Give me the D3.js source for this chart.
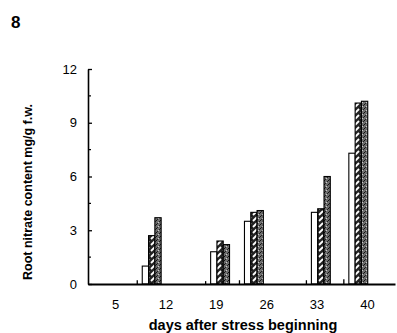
<!DOCTYPE html>
<html lang="en">
<head>
<meta charset="UTF-8">
<title>Root nitrate</title>
<script src="https://d3js.org/d3.v7.min.js"></script>
<style>
  body { margin: 0; background: #fff; }
  text { font-family: "Liberation Sans", Arial, sans-serif; }
</style>
</head>
<body>
<svg width="397" height="333"></svg>
<script>
// sampling day of each bar group (bars sit slightly off the printed ticks)
var groupDays = [10.1, 19.6, 24.3, 33.6, 38.8];
var dayTicks = [5, 12, 19, 26, 33, 40];
var yTicks = [0, 3, 6, 9, 12];
var yMinor = [1.5, 4.5, 7.5, 10.5];

var trace = [0.1, 0.05, 0.1, 0.1, 0.15];
var plain = [1.0, 1.8, 3.5, 4.0, 7.3];
var hatched = [2.7, 2.4, 4.0, 4.2, 10.1];
var dotted = [3.7, 2.2, 4.1, 6.0, 10.2];

var svg = d3.select('svg');
var defs = svg.append('defs');

// black bar with white slanted dashes
var p1 = defs.append('pattern').attr('id', 'hatch')
    .attr('patternUnits', 'userSpaceOnUse').attr('width', 6).attr('height', 6);
p1.append('rect').attr('width', 6).attr('height', 6).attr('fill', '#222');
p1.append('path').attr('d', 'M1,5 L5,1').attr('stroke', '#fff').attr('stroke-width', 1.8);

// grey stipple
var p2 = defs.append('pattern').attr('id', 'stip')
    .attr('patternUnits', 'userSpaceOnUse').attr('width', 4).attr('height', 4);
p2.append('rect').attr('width', 4).attr('height', 4).attr('fill', '#6e6e6e');
p2.append('rect').attr('x', 0).attr('y', 0).attr('width', 1).attr('height', 1).attr('fill', '#111');
p2.append('rect').attr('x', 2).attr('y', 2).attr('width', 1).attr('height', 1).attr('fill', '#ccc');
p2.append('rect').attr('x', 3).attr('y', 1).attr('width', 1).attr('height', 1).attr('fill', '#222');
p2.append('rect').attr('x', 1).attr('y', 3).attr('width', 1).attr('height', 1).attr('fill', '#222');

var x = d3.scaleLinear().domain([1.25, 43.9]).range([88, 395]);
var y = d3.scaleLinear().domain([0, 12]).range([284, 69]);

var series = [
    { values: plain, fill: '#fff' },
    { values: hatched, fill: 'url(#hatch)' },
    { values: dotted, fill: 'url(#stip)' }
];
var barW = 6.3;

series.forEach(function (s, si) {
    svg.append('g').selectAll('rect')
        .data(s.values)
        .enter()
        .append('rect')
        .attr('x', function (d, i) { return x(groupDays[i]) - 1.5 * barW + si * barW; })
        .attr('y', function (d) { return y(d); })
        .attr('width', barW)
        .attr('height', function (d) { return y(0) - y(d); })
        .attr('fill', s.fill)
        .attr('stroke', '#000')
        .attr('stroke-width', 1.1);
});

// tiny near-zero bars in front of each group
svg.append('g').selectAll('line')
    .data(trace)
    .enter()
    .append('line')
    .attr('x1', function (d, i) { return x(groupDays[i]) - 1.5 * barW - 5; })
    .attr('x2', function (d, i) { return x(groupDays[i]) - 1.5 * barW - 5; })
    .attr('y1', y(0))
    .attr('y2', function (d) { return y(d) - 2; })
    .attr('stroke', '#000')
    .attr('stroke-width', 1.3);

// axes
var axisX = d3.axisBottom(x).tickValues(dayTicks).tickSize(0).tickPadding(16);
var gx = svg.append('g').attr('transform', 'translate(0,' + y(0) + ')').call(axisX);
gx.select('.domain').attr('stroke', '#000').attr('stroke-width', 1.8);
gx.selectAll('text').attr('font-size', 13).attr('fill', '#000')
    .attr('font-family', '"Liberation Sans", Arial, sans-serif');

var axisY = d3.axisRight(y).tickValues(yTicks).tickSize(4).tickSizeOuter(0).tickFormat(d3.format('d'));
var gy = svg.append('g').attr('transform', 'translate(88,0)').call(axisY);
gy.select('.domain').attr('stroke', '#000').attr('stroke-width', 1.6);
gy.selectAll('line').attr('stroke', '#000').attr('stroke-width', 1.3);
gy.selectAll('text').attr('x', -11).attr('text-anchor', 'end')
    .attr('font-size', 13).attr('fill', '#000')
    .attr('font-family', '"Liberation Sans", Arial, sans-serif');

svg.append('g').selectAll('line')
    .data(yMinor)
    .enter()
    .append('line')
    .attr('x1', 88).attr('x2', 91)
    .attr('y1', function (d) { return y(d); })
    .attr('y2', function (d) { return y(d); })
    .attr('stroke', '#000').attr('stroke-width', 1.2);

// labels
svg.append('text').attr('x', 11).attr('y', 28)
    .attr('font-size', 17).attr('font-weight', 'bold').text('8');

svg.append('text')
    .attr('transform', 'translate(32,192) rotate(-90)')
    .attr('text-anchor', 'middle')
    .attr('font-size', 12.5).attr('font-weight', 'bold')
    .text('Root nitrate content mg/g f.w.');

svg.append('text').attr('x', 243).attr('y', 330)
    .attr('text-anchor', 'middle')
    .attr('font-size', 14.5).attr('font-weight', 'bold')
    .text('days after stress beginning');
</script>
</body>
</html>
